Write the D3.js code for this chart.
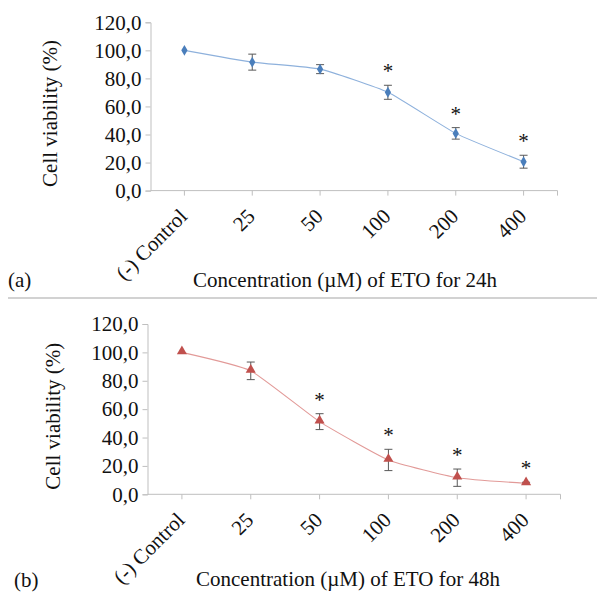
<!DOCTYPE html>
<html>
<head>
<meta charset="utf-8">
<script src="https://cdn.jsdelivr.net/npm/d3@7"></script>
<style>
  html, body { margin: 0; padding: 0; background: #fff; }
  svg { display: block; }
  svg text { font-family: "Times New Roman", "Liberation Serif", Times, "DejaVu Serif", serif !important; fill: #111; }
</style>
</head>
<body>
<svg id="chart" width="597" height="595"></svg>
<script>
// Concentration categories (µM of etoposide)
const categories = ["(-) Control", "25", "50", "100", "200", "400"];
const yTicks = [0, 20, 40, 60, 80, 100, 120];

// 24 h exposure: mean viability (%) and SD
const viability24 = [100, 91.6, 86.6, 70.1, 40.8, 20.6];
const sd24 = [0, 5.7, 3.2, 5.0, 4.1, 4.6];
const signif24 = [false, false, false, true, true, true];

// 48 h exposure: mean viability (%) and SD
const viability48 = [100, 87.0, 51.2, 24.2, 11.7, 7.7];
const sd48 = [0, 6.2, 5.6, 7.5, 6.1, 0.8];
const signif48 = [false, false, true, true, true, true];

const FONT = '"Times New Roman", "Liberation Serif", Times, "DejaVu Serif", serif';
const svg = d3.select("#chart");
const fmt = d => d.toFixed(1).replace(".", ",");

const panels = [
  {
    tag: "(a)", hours: "24h", values: viability24, sd: sd24, signif: signif24,
    x0: 150.5, x1: 557.5, yTop: 22.3, yBottom: 190.6,
    marker: "diamond", markerColor: "#4a7ebb", lineColor: "#8eb1dc",
    yLabelX: 57, titleBaseline: 287, tagX: 8, tagBaseline: 287, titleX: 345
  },
  {
    tag: "(b)", hours: "48h", values: viability48, sd: sd48, signif: signif48,
    x0: 147.5, x1: 560.5, yTop: 324, yBottom: 494.3,
    marker: "triangle", markerColor: "#c0504d", lineColor: "#e29a98",
    yLabelX: 60, titleBaseline: 586, tagX: 14, tagBaseline: 587, titleX: 348
  }
];

panels.forEach(p => {
  const g = svg.append("g").attr("font-family", FONT);
  const x = d3.scaleBand().domain(categories).range([p.x0, p.x1]);
  const cx = c => x(c) + x.bandwidth() / 2;
  const y = d3.scaleLinear().domain([0, 120]).range([p.yBottom, p.yTop]);

  // Y axis
  const yAxis = g.append("g")
    .attr("transform", `translate(${p.x0},0)`)
    .call(d3.axisLeft(y).tickValues(yTicks).tickFormat(fmt).tickSize(5).tickPadding(4));
  yAxis.attr("font-family", FONT);
  yAxis.select(".domain").attr("stroke", "#bfbfbf");
  yAxis.selectAll(".tick line").attr("stroke", "#bfbfbf");
  yAxis.selectAll(".tick text").attr("font-size", 21).attr("fill", "#111");

  // X axis with tick marks at category centres and closing tick at the end
  const xg = g.append("g").attr("transform", `translate(0,${p.yBottom})`);
  xg.append("line").attr("x1", p.x0).attr("x2", p.x1).attr("stroke", "#bfbfbf");
  const tickXs = categories.map(cx).concat([p.x1]);
  xg.selectAll("line.tk").data(tickXs).join("line").attr("class", "tk")
    .attr("x1", d => d).attr("x2", d => d).attr("y1", 0).attr("y2", 5)
    .attr("stroke", "#bfbfbf");
  xg.selectAll("text.lbl").data(categories).join("text").attr("class", "lbl")
    .attr("transform", d => `translate(${cx(d) + 4},27) rotate(-45)`)
    .attr("text-anchor", "end").attr("font-size", 21)
    .text(d => d);

  // Axis titles
  g.append("text")
    .attr("transform", `translate(${p.yLabelX},${(p.yTop + p.yBottom) / 2 + 7}) rotate(-90)`)
    .attr("text-anchor", "middle").attr("font-size", 21)
    .text("Cell viability (%)");
  g.append("text")
    .attr("x", p.titleX).attr("y", p.titleBaseline)
    .attr("text-anchor", "middle").attr("font-size", 21)
    .text(`Concentration (\u00b5M) of ETO for ${p.hours}`);
  g.append("text")
    .attr("x", p.tagX).attr("y", p.tagBaseline).attr("font-size", 21)
    .text(p.tag);

  const pts = categories.map((c, i) => ({ c, v: p.values[i], sd: p.sd[i], s: p.signif[i] }));

  // Lightly smoothed connecting line
  const line = d3.line().x(d => cx(d.c)).y(d => y(d.v)).curve(d3.curveCardinal.tension(0.55));
  g.append("path").datum(pts)
    .attr("d", line).attr("fill", "none")
    .attr("stroke", p.lineColor).attr("stroke-width", 1.1);

  // Error bars (± SD)
  const eb = g.append("g").attr("stroke", "#595959").attr("stroke-width", 1);
  pts.filter(d => d.sd > 0).forEach(d => {
    const X = cx(d.c), yt = y(d.v + d.sd), yb = y(d.v - d.sd);
    eb.append("line").attr("x1", X).attr("x2", X).attr("y1", yt).attr("y2", yb);
    eb.append("line").attr("x1", X - 4).attr("x2", X + 4).attr("y1", yt).attr("y2", yt);
    eb.append("line").attr("x1", X - 4).attr("x2", X + 4).attr("y1", yb).attr("y2", yb);
  });

  // Markers
  const sym = p.marker === "diamond"
    ? d3.symbol().type(d3.symbolDiamond).size(34)
    : d3.symbol().type(d3.symbolTriangle).size(44);
  g.selectAll("path.mk").data(pts).join("path").attr("class", "mk")
    .attr("d", sym)
    .attr("transform", d => `translate(${cx(d.c)},${y(d.v) + (p.marker === "triangle" ? -1 : 0)})`)
    .attr("fill", p.markerColor);

  // Significance asterisks above error bars
  g.selectAll("text.sig").data(pts.filter(d => d.s)).join("text").attr("class", "sig")
    .attr("x", d => cx(d.c)).attr("y", d => y(d.v + d.sd) - 7)
    .attr("text-anchor", "middle").attr("font-size", 21)
    .text("*");
});

// Divider between the two panels
svg.append("line").attr("x1", 8).attr("x2", 597).attr("y1", 298).attr("y2", 298)
  .attr("stroke", "#a6a6a6").attr("stroke-width", 1.2);
</script>
</body>
</html>
